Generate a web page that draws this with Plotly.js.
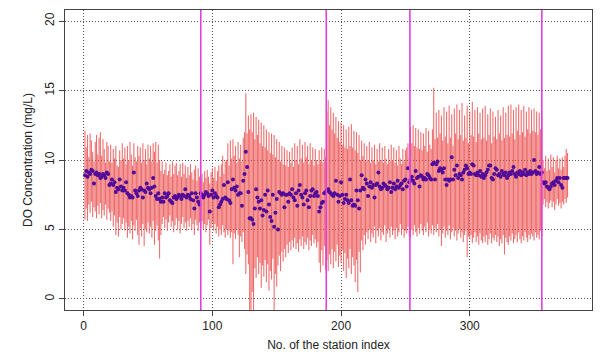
<!DOCTYPE html>
<html>
<head>
<meta charset="utf-8">
<script src="https://cdn.plot.ly/plotly-3.0.1.min.js"></script>
<style>html,body{margin:0;padding:0;background:#fff;}#chart{width:600px;height:356px;}</style>
</head>
<body>
<div id="chart"></div>
<script>
// Mean DO concentration per station (mg/L)
const meanDO = [
8.9,9.2,8.8,9.1,9.0,9.3,9.2,8.3,9.0,9.1,
8.9,9.0,8.7,8.8,9.0,8.9,8.7,9.1,9.0,8.2,
8.3,8.6,8.2,8.4,7.7,8.0,7.9,8.6,8.1,7.8,
8.0,7.8,8.4,7.6,7.5,7.3,7.4,7.3,9.1,7.8,
7.6,7.4,7.8,8.0,7.9,7.3,7.8,7.7,8.3,8.0,
7.9,7.6,8.0,8.7,8.1,7.4,7.2,7.6,7.2,7.0,
7.3,7.0,7.6,7.3,7.4,7.6,7.1,7.0,6.9,7.3,
7.4,7.2,7.3,7.5,7.4,7.2,7.5,7.4,7.9,7.3,
7.5,7.4,7.2,7.6,7.1,6.5,7.6,7.3,7.0,6.8,
7.6,7.4,7.3,7.5,7.7,7.6,7.4,6.3,7.5,7.8,
7.3,7.6,7.4,7.3,6.6,6.8,7.0,7.2,8.2,7.3,
7.2,8.4,7.1,6.9,7.9,8.6,8.0,7.8,8.1,7.5,
7.6,7.6,6.7,8.5,9.0,10.6,9.5,7.7,5.8,5.8,
5.7,5.4,6.5,7.9,7.3,7.0,6.5,7.1,6.0,6.4,
7.5,6.3,7.8,6.8,5.9,5.6,7.5,5.2,6.2,7.2,
5.0,7.7,7.6,7.5,7.6,6.6,7.5,7.5,7.0,7.6,
7.5,7.9,7.3,7.1,7.6,6.7,7.8,8.2,7.5,7.3,
6.8,7.6,7.8,7.1,6.6,7.4,7.8,7.9,7.4,7.6,
7.7,7.4,6.3,6.6,6.9,7.0,7.6,7.7,7.8,7.9,
7.7,7.6,7.5,7.4,7.6,8.5,7.5,7.0,7.4,8.4,
7.5,6.9,7.2,7.5,7.1,6.9,8.6,7.1,6.7,6.8,
6.7,7.8,7.1,6.5,7.8,8.9,8.0,7.9,8.6,8.3,
7.4,8.1,8.4,8.0,8.2,7.3,8.2,8.3,9.1,8.1,
7.9,8.0,8.3,8.2,8.1,7.9,8.0,8.4,7.7,8.0,
8.3,7.9,8.1,8.5,8.0,8.2,8.3,7.9,8.5,8.6,
8.1,9.4,8.4,8.6,8.8,8.5,8.3,9.2,8.7,8.8,
8.1,8.9,8.8,8.6,8.7,8.6,9.0,8.9,8.7,8.6,
9.7,9.8,8.6,9.7,9.9,9.2,9.4,9.3,9.1,9.4,
8.6,8.2,8.6,8.5,8.6,10.2,8.6,9.3,8.9,9.6,
8.7,9.0,8.9,8.6,9.1,9.3,9.6,9.4,9.0,9.1,
9.0,9.7,9.6,9.0,8.9,9.1,8.9,9.2,8.8,9.0,
8.7,8.9,9.1,9.3,9.6,9.6,8.7,8.6,9.0,9.4,
9.3,8.9,9.0,8.8,9.2,9.0,8.9,9.1,8.7,8.9,
9.1,9.0,9.2,9.5,9.0,8.8,9.1,9.0,9.2,8.9,
9.1,9.0,9.3,8.9,9.1,9.0,9.2,9.0,9.1,10.0,
9.2,9.0,9.1,9.5,9.0,9.1,
8.4,8.3,8.4,8.1,8.0,7.9,8.1,8.3,8.4,8.2,
8.5,8.7,8.4,8.7,8.2,8.0,8.7,8.7,8.7,8.7
];
// Maximum DO per station (mg/L)
const maxDO = [
12.1,10.9,11.8,10.2,11.9,11.4,10.6,9.9,11.3,11.8,
10.4,11.6,12.0,10.3,11.5,10.8,9.8,11.3,11.0,9.9,
11.1,9.8,10.8,10.1,11.0,9.6,9.5,10.7,10.0,11.2,
10.1,10.9,9.7,11.0,10.0,11.3,10.4,9.6,11.2,10.2,
9.9,11.0,10.3,10.9,9.8,11.2,10.0,10.8,9.7,11.1,
10.1,11.0,9.9,11.2,10.6,11.3,9.8,11.1,10.0,9.2,
9.9,9.0,9.3,9.8,8.9,9.2,9.7,8.8,9.9,9.0,
9.6,9.8,8.9,9.2,9.7,8.8,9.8,9.0,9.6,8.7,
9.5,8.9,9.7,9.1,8.6,9.3,9.6,8.5,9.4,8.8,
8.6,9.0,8.4,9.2,8.7,9.3,8.8,8.3,9.1,9.4,
8.7,9.5,8.5,9.2,9.6,8.8,9.7,10.3,9.0,9.9,
10.0,11.2,9.6,11.4,10.1,11.5,10.3,11.0,9.8,11.3,
10.1,11.1,9.9,11.6,12.0,14.8,11.9,13.2,12.2,13.3,
12.0,13.4,11.5,13.1,11.8,12.9,11.2,12.7,11.0,12.5,
10.9,12.2,10.7,12.0,10.5,11.9,10.4,11.8,10.2,11.5,
10.0,11.3,9.9,11.0,9.7,10.9,9.6,10.7,9.5,10.6,
9.8,10.9,9.5,11.2,10.0,11.0,9.7,11.5,10.1,11.1,
9.8,11.3,10.2,11.0,9.7,11.2,10.0,10.9,9.6,10.8,
10.0,9.7,10.7,9.9,10.9,9.8,10.8,10.2,13.5,14.3,
12.5,13.8,12.2,13.4,11.9,13.1,11.6,12.8,11.3,12.7,
11.1,12.5,10.9,12.2,10.8,12.4,11.0,12.6,10.9,12.1,
10.7,12.0,10.5,11.8,10.0,11.4,10.3,11.2,9.9,11.0,
10.0,11.3,9.8,10.9,10.0,11.1,9.7,10.8,9.9,11.2,
10.0,10.9,9.8,11.0,10.1,9.7,10.8,9.9,11.1,10.0,
10.9,9.8,10.7,9.6,11.0,10.1,9.7,10.8,9.9,10.7,
10.9,11.2,10.1,12.4,11.2,12.5,11.0,12.3,10.9,12.2,
10.8,12.0,10.7,11.9,11.0,12.3,10.6,12.1,11.1,10.8,
12.2,15.2,11.5,13.4,11.6,13.6,11.9,13.2,11.4,13.8,
11.7,13.5,11.2,13.9,11.6,13.3,11.0,13.7,11.9,14.0,
11.5,13.6,11.8,14.1,11.4,13.2,11.6,13.9,11.2,13.5,
11.8,14.2,11.7,13.6,11.3,13.8,11.9,13.4,11.5,13.7,
11.6,13.9,11.4,13.3,11.8,13.7,11.2,13.5,11.7,13.1,
11.5,13.6,11.9,13.2,11.4,13.8,11.6,13.4,11.8,13.9,
11.7,14.0,11.9,13.6,11.5,13.8,12.1,14.0,11.8,13.6,
12.0,13.9,11.7,13.5,12.2,13.8,11.9,13.6,12.1,13.7,
12.0,13.5,11.8,13.4,12.2,13.5,
10.0,9.4,10.3,9.2,10.1,9.3,10.4,9.5,10.2,9.1,
10.0,10.3,9.4,10.1,9.3,10.2,9.5,10.3,10.8,10.5
];
// Minimum DO per station (mg/L)
const minDO = [
5.7,6.5,5.6,6.8,6.2,7.0,5.9,6.6,6.3,5.8,
6.7,6.1,6.9,5.8,6.4,6.0,6.8,5.7,6.5,6.2,
5.6,6.3,5.2,6.0,4.6,5.5,4.5,5.9,5.0,5.4,
5.8,4.9,5.5,4.4,5.2,4.7,5.6,4.3,5.3,4.9,
5.7,4.6,3.9,5.1,4.5,5.4,3.8,5.0,4.8,5.5,
4.7,5.2,4.4,5.6,3.9,4.9,5.3,4.2,2.9,4.6,
5.4,5.9,5.1,5.7,4.9,5.5,6.0,5.2,5.6,4.8,
5.3,5.8,5.0,5.6,4.7,5.4,5.9,5.1,5.5,4.9,
5.6,5.2,5.8,5.0,5.4,4.6,5.7,5.3,4.9,5.5,
5.2,5.6,5.0,5.4,4.8,5.3,5.7,3.9,5.1,5.5,
4.9,5.4,4.7,5.2,4.5,5.0,4.6,5.3,4.8,4.4,
5.0,4.6,4.9,4.4,4.8,2.5,4.7,4.3,5.0,4.6,
3.0,4.5,4.1,4.8,3.6,1.8,3.2,2.5,-0.8,-0.8,
0.5,-0.8,2.2,1.5,3.0,1.8,2.6,0.8,2.4,1.6,
2.8,1.2,2.5,0.6,2.0,1.4,2.9,-0.8,1.8,0.9,
2.4,3.1,2.0,3.4,2.7,3.6,3.0,3.9,3.3,4.1,
3.5,4.2,3.7,4.4,3.6,4.0,3.4,4.3,3.8,4.5,
3.6,4.1,3.9,4.4,3.5,4.2,3.8,4.6,4.0,4.3,
3.7,4.1,2.6,1.9,3.5,2.4,3.8,2.1,2.8,2.0,
3.2,2.5,3.6,2.2,3.4,2.7,3.9,2.3,3.1,2.6,
3.5,2.0,3.3,1.5,2.9,2.2,3.6,1.8,3.0,2.4,
1.2,2.8,0.5,3.4,1.9,4.2,3.5,4.6,3.9,4.8,
4.3,5.0,4.1,4.7,4.4,5.2,4.0,4.9,4.5,5.1,
4.2,4.8,4.6,5.3,4.1,4.7,5.0,4.4,5.2,4.6,
4.9,4.3,5.1,4.5,4.8,5.4,4.6,5.0,4.4,4.9,
4.7,5.2,4.5,4.4,5.0,4.6,5.3,4.8,4.5,5.1,
4.7,5.4,4.9,4.6,5.2,4.8,5.5,4.5,5.0,4.7,
5.3,4.6,5.1,4.8,5.4,4.5,5.0,3.8,4.7,5.2,
4.4,4.9,4.6,5.3,4.3,4.8,5.1,4.5,4.9,4.2,
4.7,5.0,4.4,4.8,4.1,4.6,4.9,3.0,4.5,4.3,
4.6,4.0,4.4,4.8,4.1,4.5,3.9,4.7,4.2,4.0,
4.5,4.1,4.6,3.9,4.3,4.7,4.0,4.4,4.2,4.6,
4.1,4.5,3.8,4.3,4.0,4.6,3.2,4.4,4.1,3.9,
4.5,4.2,4.7,4.0,4.3,4.6,4.1,4.8,4.3,4.0,
4.5,4.2,4.8,4.4,4.1,4.6,4.3,4.7,4.5,4.2,
4.8,4.4,4.6,4.3,4.9,4.5,
6.8,7.2,6.6,7.0,6.5,6.9,7.1,6.6,7.0,6.4,
6.8,7.2,6.7,6.9,6.5,7.0,6.8,7.2,6.9,7.3
];
// Segment boundaries (station index)
const boundaries = [91, 188.5, 253.5, 356];
const xTicks = [0, 100, 200, 300];
const yTicks = [0, 5, 10, 15, 20];

const n = Math.min(meanDO.length, maxDO.length, minDO.length);
const stations = [], mu = [], up = [], dn = [];
for (let i = 0; i < n; i++) {
  stations.push(i + 1);
  mu.push(meanDO[i]);
  up.push(Math.max(0, maxDO[i] - meanDO[i]));
  dn.push(Math.max(0, meanDO[i] - minDO[i]));
}

const trace = {
  type: 'scatter', mode: 'markers',
  x: stations, y: mu,
  marker: {color: '#520A98', size: 4},
  error_y: {type: 'data', symmetric: false, array: up, arrayminus: dn,
            color: 'rgba(234,78,78,0.82)', thickness: 1.1, width: 0},
  cliponaxis: true,
  hoverinfo: 'x+y'
};

const font = {family: '"Liberation Sans", Arial, sans-serif', size: 12, color: '#222'};
const gridDash = '1px,2px';
const layout = {
  width: 600, height: 356,
  margin: {l: 65, r: 8, t: 10, b: 46},
  paper_bgcolor: '#fff', plot_bgcolor: '#fff',
  font: font,
  showlegend: false,
  xaxis: {
    range: [-14.5, 395], tickvals: xTicks, ticktext: xTicks.map(String),
    ticks: 'outside', ticklen: 5, tickcolor: '#444',
    showline: true, mirror: true, linecolor: '#444', linewidth: 1,
    showgrid: true, gridcolor: '#555', griddash: gridDash, gridwidth: 1,
    zeroline: false,
    title: {text: 'No. of the station index', font: font, standoff: 8}
  },
  yaxis: {
    range: [-0.8, 20.8], tickvals: yTicks, ticktext: yTicks.map(String),
    tickangle: -90,
    ticks: 'outside', ticklen: 5, tickcolor: '#444',
    showline: true, mirror: true, linecolor: '#444', linewidth: 1,
    showgrid: true, gridcolor: '#555', griddash: gridDash, gridwidth: 1,
    zeroline: false,
    title: {text: 'DO Concentration (mg/L)', font: font, standoff: 8}
  },
  shapes: boundaries.map(b => ({
    type: 'line', xref: 'x', yref: 'paper', x0: b, x1: b, y0: 0, y1: 1,
    line: {color: '#E040E0', width: 1.6}, layer: 'above'
  }))
};

Plotly.newPlot('chart', [trace], layout, {displayModeBar: false, staticPlot: true});
</script>
</body>
</html>
